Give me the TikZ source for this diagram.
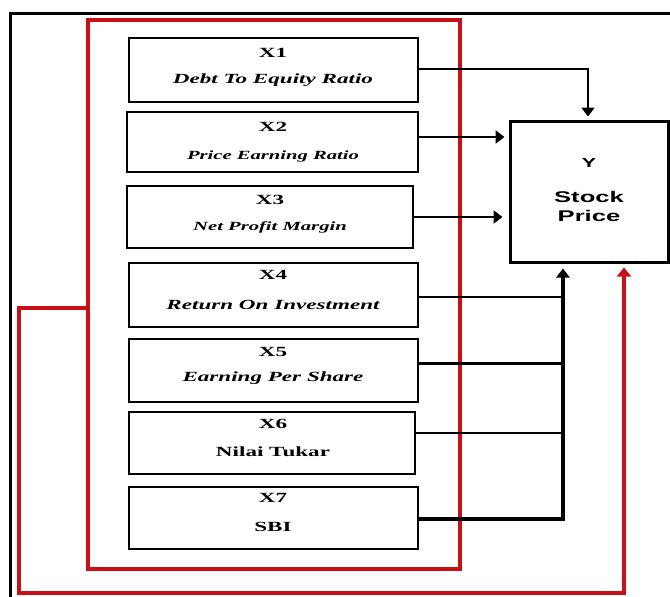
\documentclass[tikz,border=0pt]{standalone}
\usepackage{fontspec}
\setmainfont{Liberation Serif}
\newfontfamily\sansbold{Liberation Sans}
\usetikzlibrary{arrows.meta}
\definecolor{fred}{RGB}{200,16,22}
\newcommand{\sx}[1]{\scalebox{1.65}[1]{#1}}
\tikzset{
  box/.style={draw=black, line width=2.4pt, fill=white, inner sep=0pt},
  tx/.style={inner sep=0pt, font=\fontsize{14}{14}\selectfont\bfseries},
  ti/.style={inner sep=0pt, font=\fontsize{14}{14}\selectfont\bfseries\itshape},
  tis/.style={inner sep=0pt, font=\fontsize{12.5}{12.5}\selectfont\bfseries\itshape},
  conn/.style={draw=black, line width=2.6pt},
  arr/.style={conn, -{Triangle[length=9pt,width=13pt]}},
  redl/.style={draw=fred, line width=3.6pt},
  redarr/.style={redl, -{Triangle[length=9pt,width=14pt]}}
}
\begin{document}
\begin{tikzpicture}[x=1pt,y=-1pt]
\useasboundingbox (0,0) rectangle (670,597);
\fill[white] (0,0) rectangle (670,597);
% outer black frame
\draw[line width=3pt] (671,13) -- (10,13) -- (10,598);
% red group rectangle
\node[draw=fred, line width=3.6pt, minimum width=372pt, minimum height=549pt, inner sep=0pt] (grp) at (274,294.5) {};
% boxes
\node[box, minimum width=289pt, minimum height=64pt] (x1) at (273.5,70) {};
\node[box, minimum width=291pt, minimum height=60pt] (x2) at (272.5,142) {};
\node[box, minimum width=286pt, minimum height=62pt] (x3) at (270,217) {};
\node[box, minimum width=289pt, minimum height=64pt] (x4) at (273.5,295) {};
\node[box, minimum width=289pt, minimum height=63pt] (x5) at (273.5,370.5) {};
\node[box, minimum width=286pt, minimum height=62pt] (x6) at (272,443) {};
\node[box, minimum width=289pt, minimum height=62pt] (x7) at (273.5,518) {};
\node[box, line width=3pt, minimum width=158pt, minimum height=141pt] (y) at (589,191.5) {};
% texts
\node[tx] (x1a) at (273,53) {\sx{X1}};
\node[ti] (x1b) at (273,80) {\sx{Debt To Equity Ratio}};
\node[tx] (x2a) at (273,127) {\sx{X2}};
\node[tis] (x2b) at (273,156) {\sx{Price Earning Ratio}};
\node[tx] (x3a) at (270,200) {\sx{X3}};
\node[tis] (x3b) at (270,227) {\sx{Net Profit Margin}};
\node[tx] (x4a) at (273,275) {\sx{X4}};
\node[ti] (x4b) at (273,305) {\sx{Return On Investment}};
\node[tx] (x5a) at (273,352) {\sx{X5}};
\node[ti] (x5b) at (273,378) {\sx{Earning Per Share}};
\node[tx] (x6a) at (273,424) {\sx{X6}};
\node[tx] (x6b) at (273,452) {\sx{Nilai Tukar}};
\node[tx] (x7a) at (273,498) {\sx{X7}};
\node[tx] (x7b) at (273,527) {\sx{SBI}};
\node[inner sep=0pt, font=\sansbold\fontsize{13}{13}\selectfont\bfseries] (ya) at (589,163) {\sx{Y}};
\node[inner sep=0pt, align=center, font=\sansbold\fontsize{15.5}{19}\selectfont\bfseries] (yb) at (589,206) {\sx{Stock}\\\sx{Price}};
% connectors
\coordinate (topc) at (588,69);
\coordinate (busb) at (563,519);
\draw[arr] ([yshift=1pt]x1.east) -- (topc) -- ([yshift=3pt]y.north -| topc);
\draw[arr] ([yshift=5pt]x2.east) -- ([xshift=-4pt,yshift=5pt]x2.east -| y.west);
\draw[arr] (x3.east) -- ([xshift=-6pt]x3.east -| y.west);
\draw[conn] ([yshift=-2pt]x4.east) -- ([yshift=-2pt]x4.east -| busb);
\draw[conn] ([yshift=7pt]x5.east) -- ([yshift=7pt]x5.east -| busb);
\draw[conn] ([yshift=10pt]x6.east) -- ([yshift=10pt]x6.east -| busb);
\draw[arr, line width=3.2pt] ([yshift=-1pt]x7.east) -- (busb) -- ([yshift=-5pt]y.south -| busb);
% red feedback loop
\draw[redarr] (grp.west |- 0,308) -- (19,308) -- (19,593) -- (624,593) -- ([yshift=-4pt]y.south -| 624,0);
\end{tikzpicture}
\end{document}
